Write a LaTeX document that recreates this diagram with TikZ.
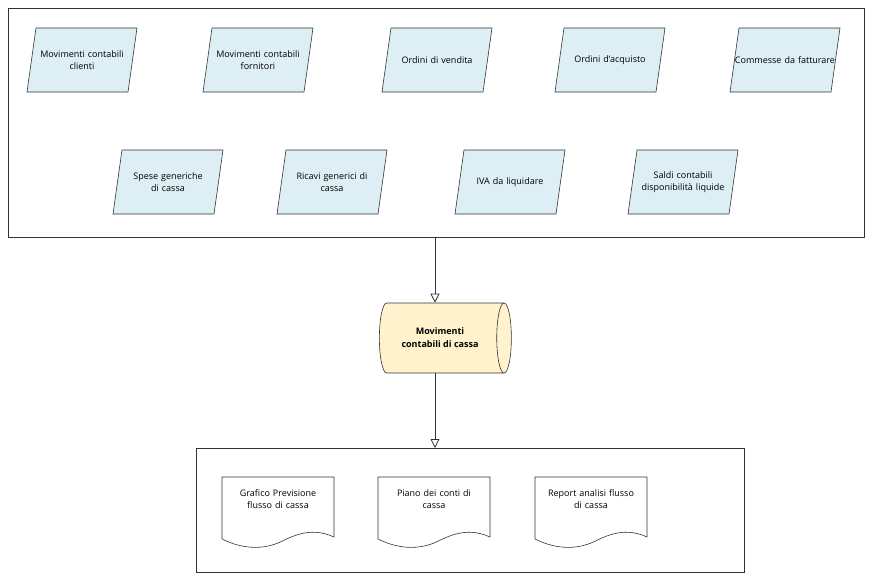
\documentclass[tikz,border=0pt]{standalone}
\usepackage{fontspec}
\setmainfont{Open Sans}
\usetikzlibrary{shapes.geometric,arrows.meta}
\definecolor{pb}{HTML}{DDEEF4}
\definecolor{cy}{HTML}{FFF2CC}
\definecolor{ln}{HTML}{333333}
\tikzset{
  frame/.style={draw=ln,line width=0.8pt},
  lbl/.style={align=center,font=\fontsize{9}{12}\selectfont,text width=105pt},
  arr/.style={draw=ln,line width=0.8pt,-{Triangle[open,length=9pt,width=9pt]}},
  para/.style={draw=ln,fill=pb,line width=0.6pt},
  doc/.style={draw=ln,fill=white,line width=0.6pt}
}
\newcommand\mypp[4]{\path[para] (#2-46,#3-32) -- (#2+55,#3-32) -- (#2+46,#3+32) -- (#2-55,#3+32) -- cycle;
  \node[lbl] (#1) at (#2,#3) {#4};}
\newcommand\mydc[4]{\path[doc] (#2-56,#3-34) -- (#2+56,#3-34) -- (#2+56,#3+26)
    .. controls (#2+30,#3+14) and (#2+10,#3+28) .. (#2,#3+32)
    .. controls (#2-20,#3+40) and (#2-40,#3+36) .. (#2-56,#3+28) -- cycle;
  \node[lbl,text width=110pt] (#1) at (#2,#3-12) {#4};}
\begin{document}
\begin{tikzpicture}[x=1pt,y=-1pt]
\useasboundingbox (0,0) rectangle (880,586);
\draw[frame] (8,8) rectangle (864,237);
\coordinate (topb) at (435,237);
\mypp{a}{82}{60}{Movimenti contabili\\clienti}
\mypp{b}{258}{60}{Movimenti contabili\\fornitori}
\mypp{c}{437}{60}{Ordini di vendita}
\mypp{d}{610}{60}{Ordini d'acquisto}
\mypp{e}{785}{60}{Commesse da fatturare}
\mypp{f}{168}{182}{Spese generiche\\di cassa}
\mypp{g}{332}{182}{Ricavi generici di\\cassa}
\mypp{h}{510}{182}{IVA da liquidare}
\mypp{i}{683}{182}{Saldi contabili\\disponibilità liquide}
\node[cylinder,draw=ln,fill=cy,line width=0.6pt,minimum width=70pt,minimum height=132pt,
  shape aspect=0.55,align=center,font=\fontsize{9}{13}\selectfont\bfseries] (cyl) at (440,338)
  {Movimenti\\contabili di cassa};
\draw[frame] (196,448) rectangle (744,572);
\coordinate (botb) at (435,448);
\mydc{r1}{278}{511}{Grafico Previsione\\flusso di cassa}
\mydc{r2}{434}{511}{Piano dei conti di\\cassa}
\mydc{r3}{591}{511}{Report analisi flusso\\di cassa}
\draw[arr] (topb) -- (topb |- cyl.north);
\draw[arr] (botb |- cyl.south) -- (botb);
\end{tikzpicture}
\end{document}
